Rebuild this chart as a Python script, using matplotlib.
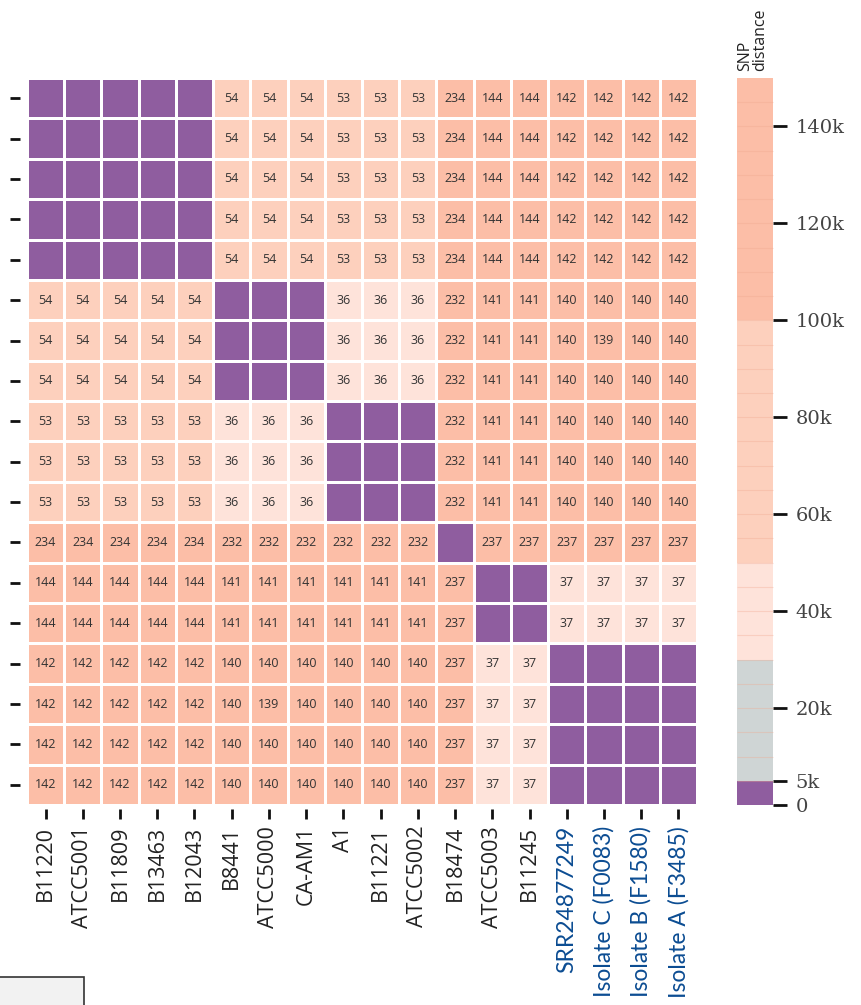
import numpy as np
import matplotlib
matplotlib.use("Agg")
import matplotlib.pyplot as plt
from matplotlib.colors import ListedColormap, BoundaryNorm
from matplotlib.patches import Rectangle

# isolates (same order on both axes)
strains = ["B11220", "ATCC5001", "B11809", "B13463", "B12043",
           "B8441", "ATCC5000", "CA-AM1",
           "A1", "B11221", "ATCC5002",
           "B18474",
           "ATCC5003", "B11245",
           "SRR24877249", "Isolate C (F0083)", "Isolate B (F1580)", "Isolate A (F3485)"]
highlight = ["SRR24877249", "Isolate C (F0083)", "Isolate B (F1580)", "Isolate A (F3485)"]

# SNP distances (thousands), 0 = same clade block (not labelled)
snp = np.array([
    [0, 0, 0, 0, 0, 54, 54, 54, 53, 53, 53, 234, 144, 144, 142, 142, 142, 142],
    [0, 0, 0, 0, 0, 54, 54, 54, 53, 53, 53, 234, 144, 144, 142, 142, 142, 142],
    [0, 0, 0, 0, 0, 54, 54, 54, 53, 53, 53, 234, 144, 144, 142, 142, 142, 142],
    [0, 0, 0, 0, 0, 54, 54, 54, 53, 53, 53, 234, 144, 144, 142, 142, 142, 142],
    [0, 0, 0, 0, 0, 54, 54, 54, 53, 53, 53, 234, 144, 144, 142, 142, 142, 142],
    [54, 54, 54, 54, 54, 0, 0, 0, 36, 36, 36, 232, 141, 141, 140, 140, 140, 140],
    [54, 54, 54, 54, 54, 0, 0, 0, 36, 36, 36, 232, 141, 141, 140, 139, 140, 140],
    [54, 54, 54, 54, 54, 0, 0, 0, 36, 36, 36, 232, 141, 141, 140, 140, 140, 140],
    [53, 53, 53, 53, 53, 36, 36, 36, 0, 0, 0, 232, 141, 141, 140, 140, 140, 140],
    [53, 53, 53, 53, 53, 36, 36, 36, 0, 0, 0, 232, 141, 141, 140, 140, 140, 140],
    [53, 53, 53, 53, 53, 36, 36, 36, 0, 0, 0, 232, 141, 141, 140, 140, 140, 140],
    [234, 234, 234, 234, 234, 232, 232, 232, 232, 232, 232, 0, 237, 237, 237, 237, 237, 237],
    [144, 144, 144, 144, 144, 141, 141, 141, 141, 141, 141, 237, 0, 0, 37, 37, 37, 37],
    [144, 144, 144, 144, 144, 141, 141, 141, 141, 141, 141, 237, 0, 0, 37, 37, 37, 37],
    [142, 142, 142, 142, 142, 140, 140, 140, 140, 140, 140, 237, 37, 37, 0, 0, 0, 0],
    [142, 142, 142, 142, 142, 140, 139, 140, 140, 140, 140, 237, 37, 37, 0, 0, 0, 0],
    [142, 142, 142, 142, 142, 140, 140, 140, 140, 140, 140, 237, 37, 37, 0, 0, 0, 0],
    [142, 142, 142, 142, 142, 140, 140, 140, 140, 140, 140, 237, 37, 37, 0, 0, 0, 0],
])

# colour scale: 5k steps from 0 to 150k
bounds = np.arange(0, 155, 5)
cb_ticks = [0, 5, 20, 40, 60, 80, 100, 120, 140]
cb_labels = ["0", "5k", "20k", "40k", "60k", "80k", "100k", "120k", "140k"]

purple = "#8f5d9f"
grey = "#cfd5d5"
light = "#fee3da"
mid = "#fdd0bd"
salmon = "#fcbea7"

seg_cols = []
for lo in bounds[:-1]:
    if lo < 5:
        seg_cols.append(purple)
    elif lo < 30:
        seg_cols.append(grey)
    elif lo < 50:
        seg_cols.append(light)
    elif lo < 100:
        seg_cols.append(mid)
    else:
        seg_cols.append(salmon)
cmap = ListedColormap(seg_cols)
cmap.set_over(salmon)
norm = BoundaryNorm(bounds, cmap.N)

fig = plt.figure(figsize=(8.62, 10.05), dpi=100)
ax = fig.add_axes([0.0313, 0.199, 0.7773, 0.7234])
cax = fig.add_axes([0.855, 0.199, 0.042, 0.7234])

n = len(strains)
mesh = ax.pcolormesh(np.arange(n + 1), np.arange(n + 1), snp, cmap=cmap, norm=norm,
                     edgecolors="white", linewidth=1.8)
ax.set_xlim(0, n)
ax.set_ylim(n, 0)

for i in range(n):
    for j in range(n):
        v = snp[i, j]
        if v >= 5:
            ax.text(j + 0.5, i + 0.5, str(v), ha="center", va="center",
                    fontsize=9, color="#333333", family="Open Sans")

# spine offsets first: moving a spine resets the tick labels
for s in ax.spines.values():
    s.set_visible(False)
ax.spines["left"].set_position(("outward", 5))
ax.spines["bottom"].set_position(("outward", 3))

ax.set_xticks(np.arange(n) + 0.5)
ax.set_xticklabels(strains, rotation=90, fontsize=15.5, family="Open Sans", color="#222222")
for lab in ax.get_xticklabels():
    if lab.get_text() in highlight:
        lab.set_color("#0b4c92")
        lab.set_family("Lato")
        lab.set_fontsize(16.5)
ax.set_yticks(np.arange(n) + 0.5)
ax.set_yticklabels([])
ax.tick_params(axis="both", length=7, width=2, color="#111111")
ax.tick_params(axis="x", pad=5)

cb = fig.colorbar(mesh, cax=cax, boundaries=bounds, ticks=cb_ticks, drawedges=True)
cb.outline.set_visible(False)
cb.dividers.set_color("#f0a890")
cb.dividers.set_alpha(0.35)
cb.dividers.set_linewidth(0.8)
cb.ax.minorticks_off()
cb.ax.set_yticklabels(cb_labels, family="DejaVu Serif", fontsize=14, color="#444444")
cb.ax.tick_params(length=10, width=2, color="#111111", pad=6)
cb.ax.set_title("SNP\ndistance", rotation=90, fontsize=11.5, family="Open Sans",
                color="#222222", loc="left", pad=8, linespacing=0.9)

# fragment of the neighbouring panel at the bottom left
fig.patches.append(Rectangle((-0.01, -0.01), 0.108, 0.038, transform=fig.transFigure,
                             facecolor="#f2f2f2", edgecolor="#333333", linewidth=1.2))

fig.savefig("out.png", dpi=100)
